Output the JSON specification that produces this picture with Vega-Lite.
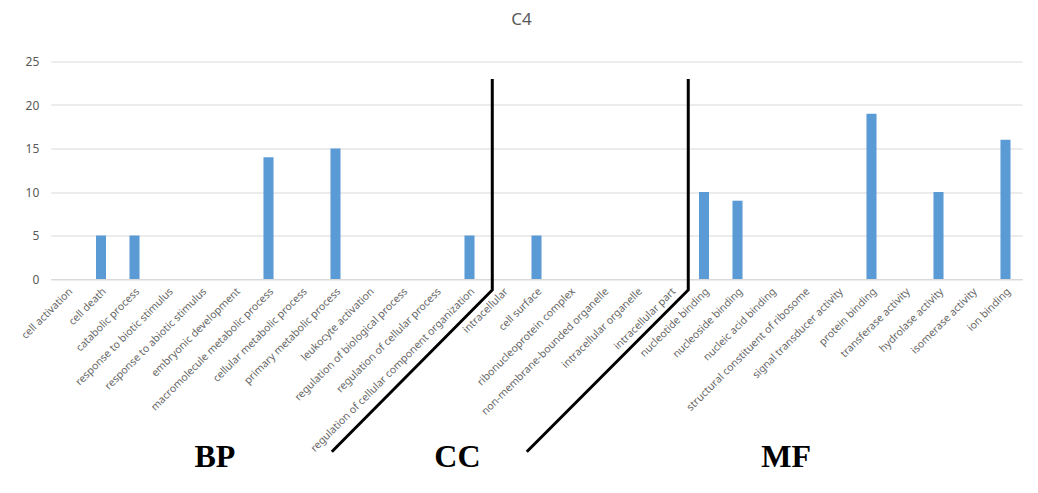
{
  "$schema": "https://vega.github.io/schema/vega-lite/v6.json",
  "width": 971.5,
  "height": 217.5,
  "autosize": {"type": "none"},
  "padding": {"left": 50.75, "top": 61.5, "right": 15.75, "bottom": 214},
  "background": "white",
  "title": {"text": "C4", "fontSize": 17, "font": "Noto Sans", "fontWeight": "normal", "color": "#595959", "anchor": "middle", "offset": 27, "dx": -15},
  "config": {"view": {"stroke": null}},
  "datasets": {
    "bars": [
      {"term": "cell activation", "count": 0},
      {"term": "cell death", "count": 5},
      {"term": "catabolic process", "count": 5},
      {"term": "response to biotic stimulus", "count": 0},
      {"term": "response to abiotic stimulus", "count": 0},
      {"term": "embryonic development", "count": 0},
      {"term": "macromolecule metabolic process", "count": 14},
      {"term": "cellular metabolic process", "count": 0},
      {"term": "primary metabolic process", "count": 15},
      {"term": "leukocyte activation", "count": 0},
      {"term": "regulation of biological process", "count": 0},
      {"term": "regulation of cellular process", "count": 0},
      {"term": "regulation of cellular component organization", "count": 5},
      {"term": "intracellular", "count": 0},
      {"term": "cell surface", "count": 5},
      {"term": "ribonucleoprotein complex", "count": 0},
      {"term": "non-membrane-bounded organelle", "count": 0},
      {"term": "intracellular organelle", "count": 0},
      {"term": "intracellular part", "count": 0},
      {"term": "nucleotide binding", "count": 10},
      {"term": "nucleoside binding", "count": 9},
      {"term": "nucleic acid binding", "count": 0},
      {"term": "structural constituent of ribosome", "count": 0},
      {"term": "signal transducer activity", "count": 0},
      {"term": "protein binding", "count": 19},
      {"term": "transferase activity", "count": 0},
      {"term": "hydrolase activity", "count": 10},
      {"term": "isomerase activity", "count": 0},
      {"term": "ion binding", "count": 16}
    ],
    "lines": [
      {"g": "a", "o": 1, "u": 13.18, "v": 23.0},
      {"g": "a", "o": 2, "u": 13.18, "v": -1.26},
      {"g": "a", "o": 3, "u": 8.39, "v": -19.85},
      {"g": "b", "o": 1, "u": 19.03, "v": 23.0},
      {"g": "b", "o": 2, "u": 19.03, "v": -1.26},
      {"g": "b", "o": 3, "u": 14.21, "v": -19.85}
    ],
    "labels": [
      {"label": "BP", "u": 4.9, "v": -20.46},
      {"label": "CC", "u": 12.14, "v": -20.46},
      {"label": "MF", "u": 21.95, "v": -20.46}
    ]
  },
  "layer": [
    {
      "data": {"name": "bars"},
      "mark": {"type": "bar", "color": "#5b9bd5"},
      "encoding": {
        "x": {"field": "term", "type": "nominal", "sort": null,
          "scale": {"paddingInner": 0.7, "paddingOuter": 0.35},
          "axis": {"title": null, "labelAngle": -45, "labelFont": "Noto Sans", "labelFontSize": 10.5, "labelColor": "#666666", "ticks": false, "domainColor": "#d9d9d9", "labelPadding": 7, "labelLimit": 400, "labelOverlap": false}},
        "y": {"field": "count", "type": "quantitative",
          "scale": {"domain": [0, 25], "nice": false},
          "axis": {"title": null, "values": [0, 5, 10, 15, 20, 25], "grid": true, "gridColor": "#d9d9d9", "domain": false, "ticks": false, "labelFont": "Noto Sans", "labelFontSize": 12, "labelColor": "#595959", "labelPadding": 12}}
      }
    },
    {
      "data": {"name": "lines"},
      "mark": {"type": "line", "color": "black", "strokeWidth": 3, "clip": false},
      "encoding": {
        "x": {"field": "u", "type": "quantitative", "scale": {"domain": [0, 29], "nice": false, "zero": false}, "axis": null},
        "y": {"field": "v", "type": "quantitative", "title": null},
        "detail": {"field": "g"},
        "order": {"field": "o"}
      }
    },
    {
      "data": {"name": "labels"},
      "mark": {"type": "text", "font": "Liberation Serif", "fontWeight": "bold", "fontSize": 32, "color": "black", "baseline": "middle", "align": "center"},
      "encoding": {
        "x": {"field": "u", "type": "quantitative", "scale": {"domain": [0, 29], "nice": false, "zero": false}, "axis": null},
        "y": {"field": "v", "type": "quantitative", "title": null},
        "text": {"field": "label"}
      }
    }
  ],
  "resolve": {"scale": {"x": "independent"}}
}
